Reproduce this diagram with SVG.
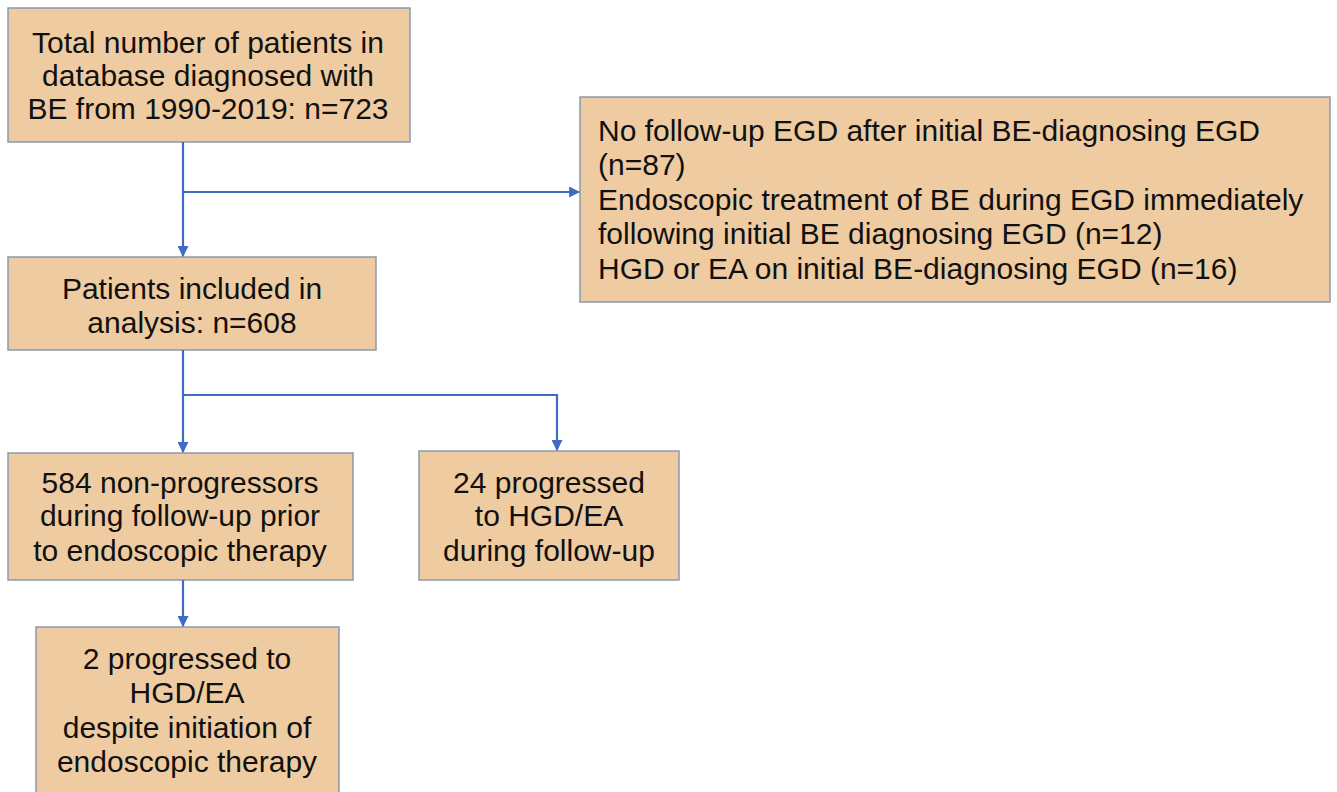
<svg xmlns="http://www.w3.org/2000/svg" width="1337" height="792" viewBox="0 0 1337 792">
<defs>
<marker id="ah" viewBox="0 0 10 10" refX="9" refY="5" markerWidth="5" markerHeight="5" orient="auto" markerUnits="strokeWidth">
<path d="M0,0 L10,5 L0,10 z" fill="#3F6BC4"/>
</marker>
<style>
.box{fill:#EFCBA1;stroke:#8C99AC;stroke-width:1.5}
.t{font-family:"Liberation Sans",Arial,sans-serif;font-size:30px;fill:#111}
.c{text-anchor:middle}
.ln{fill:none;stroke:#3F6BC4;stroke-width:2.2}
</style>
</defs>
<rect width="1337" height="792" fill="#fff"/>
<g id="n1"><rect class="box" x="8" y="8" width="402" height="134"/>
<text class="t c" x="208" y="53">Total number of patients in</text>
<text class="t c" x="208" y="86">database diagnosed with</text>
<text class="t c" x="208" y="119">BE from 1990-2019: n=723</text></g>
<g id="n2"><rect class="box" x="580" y="97" width="750" height="205"/>
<text class="t" x="598" y="141">No follow-up EGD after initial BE-diagnosing EGD</text>
<text class="t" x="598" y="175">(n=87)</text>
<text class="t" x="598" y="210">Endoscopic treatment of BE during EGD immediately</text>
<text class="t" x="598" y="244">following initial BE diagnosing EGD (n=12)</text>
<text class="t" x="598" y="279">HGD or EA on initial BE-diagnosing EGD (n=16)</text></g>
<g id="n3"><rect class="box" x="8" y="257" width="368" height="93"/>
<text class="t c" x="192" y="299">Patients included in</text>
<text class="t c" x="192" y="333">analysis: n=608</text></g>
<g id="n4"><rect class="box" x="8" y="453" width="345" height="127"/>
<text class="t c" x="180" y="493">584 non-progressors</text>
<text class="t c" x="180" y="526">during follow-up prior</text>
<text class="t c" x="180" y="561">to endoscopic therapy</text></g>
<g id="n5"><rect class="box" x="419" y="451" width="260" height="129"/>
<text class="t c" x="549" y="493">24 progressed</text>
<text class="t c" x="549" y="526">to HGD/EA</text>
<text class="t c" x="549" y="561">during follow-up</text></g>
<g id="n6"><rect class="box" x="36" y="627" width="303" height="170"/>
<text class="t c" x="187" y="669">2 progressed to</text>
<text class="t c" x="187" y="703">HGD/EA</text>
<text class="t c" x="187" y="738">despite initiation of</text>
<text class="t c" x="187" y="772">endoscopic therapy</text></g>
<g id="connectors">
<path class="ln" d="M183,142 V256" marker-end="url(#ah)"/>
<path class="ln" d="M183,192 H579" marker-end="url(#ah)"/>
<path class="ln" d="M183,350 V452" marker-end="url(#ah)"/>
<path class="ln" d="M183,395 H557 V450" marker-end="url(#ah)"/>
<path class="ln" d="M183,580 V626" marker-end="url(#ah)"/>
</g>
</svg>
